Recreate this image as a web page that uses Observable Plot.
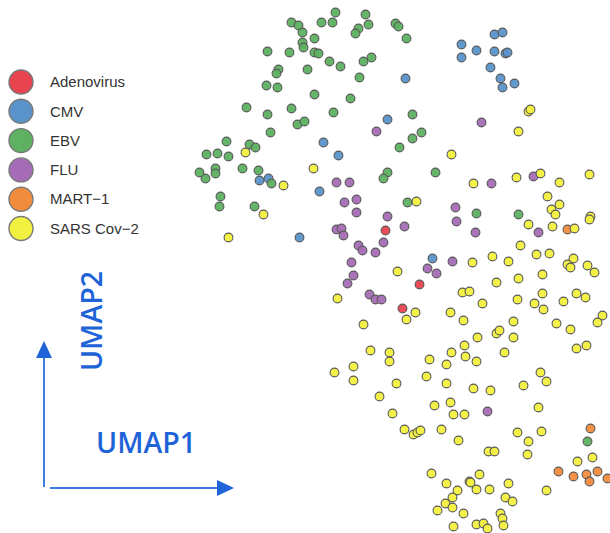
<!DOCTYPE html>
<html>
<head>
<meta charset="utf-8">
<script src="https://cdn.jsdelivr.net/npm/d3@7"></script>
<script src="https://cdn.jsdelivr.net/npm/@observablehq/plot@0.6"></script>
<style>
  html, body { margin: 0; padding: 0; background: #fff; }
  #wrap { position: relative; width: 610px; height: 533px; overflow: hidden; }
  #wrap > svg { position: absolute; left: 0; top: 0; }
</style>
</head>
<body>
<div id="wrap"></div>
<script>
// Categories (legend order) and colours
const categories = ["Adenovirus", "CMV", "EBV", "FLU", "MART\u22121", "SARS Cov\u22122"];
const colors = ["#e8444f", "#5a93ca", "#5db160", "#a66bb6", "#f28c3d", "#f3f13f"];

// UMAP embedding values: [UMAP1, UMAP2] (arbitrary units)
const adenovirus = [[385,303],[419,249],[402,225]];
const cmv = [[405,455],[387,414],[323,391],[338,378],[259,353],[268,355],[319,342],[299,296],
  [461,489],[461,476],[476,483],[494,499],[502,501],[494,482],[505,480],[507,481],[490,466],
  [500,455],[502,446],[514,450],[432,275]];
const ebv = [[335,521],[365,519],[291,511],[298,508],[321,511],[332,511],[358,505],[355,500],
  [368,509],[395,510],[398,507],[406,495],[302,501],[314,495],[302,491],[303,486],[267,482],
  [289,481],[314,481],[318,480],[329,472],[340,467],[363,472],[371,476],[278,464],[276,460],
  [307,464],[359,456],[266,448],[277,446],[314,439],[350,435],[246,426],[267,419],[291,425],
  [333,421],[297,409],[304,412],[270,401],[226,392],[249,389],[255,386],[206,379],[217,380],
  [228,377],[399,386],[215,365],[215,360],[205,355],[199,361],[242,365],[258,363],[271,350],
  [387,361],[383,355],[220,337],[219,327],[254,327],[407,331],[412,419],[412,395],[421,401],
  [435,361],[476,320],[518,319],[587,92]];
const flu = [[376,402],[336,351],[349,351],[344,331],[356,334],[356,321],[387,317],[404,307],
  [336,304],[341,305],[343,298],[358,288],[362,283],[383,291],[375,281],[351,271],[353,258],
  [347,250],[427,265],[436,260],[452,272],[369,239],[375,234],[381,234],[481,411],[491,350],
  [533,357],[455,326],[456,312],[475,301],[538,301],[487,122]];
const mart1 = [[567,304],[590,105],[558,62],[573,57],[586,59],[597,62],[589,52],[607,55]];
const sars = [[245,381],[313,365],[283,348],[263,319],[228,296],[528,422],[530,424],[518,402],
  [451,379],[473,350],[516,356],[540,360],[559,351],[589,359],[547,337],[559,329],[551,324],
  [555,319],[416,332],[528,309],[552,307],[574,305],[590,317],[589,314],[520,288],[397,262],
  [337,235],[415,221],[406,214],[363,209],[450,221],[462,241],[469,242],[463,213],[370,183],
  [389,181],[389,172],[429,174],[451,181],[464,188],[465,177],[446,169],[334,161],[353,167],
  [353,153],[396,150],[426,157],[446,150],[492,277],[472,271],[508,272],[536,279],[549,280],
  [573,275],[567,269],[570,266],[587,268],[594,261],[496,251],[518,255],[542,259],[482,230],
  [517,234],[542,240],[534,230],[543,224],[563,232],[576,240],[585,236],[602,218],[597,211],
  [513,212],[556,210],[570,204],[496,200],[499,203],[477,196],[513,196],[476,172],[504,181],
  [576,185],[586,188],[540,161],[546,152],[473,145],[490,143],[523,148],[379,137],[434,128],
  [450,131],[392,120],[453,119],[464,119],[404,104],[413,99],[417,101],[420,103],[441,104],
  [458,93],[431,60],[446,50],[457,43],[469,52],[452,36],[445,30],[452,26],[437,23],[463,20],
  [453,7],[538,126],[517,101],[541,102],[528,92],[488,82],[494,82],[527,79],[577,72],[592,76],
  [479,59],[470,51],[476,44],[489,44],[508,50],[546,43],[505,36],[512,32],[500,20],[502,15],
  [503,8],[476,9],[483,10],[487,5]];

const groups = [adenovirus, cmv, ebv, flu, mart1, sars];
const points = groups.flatMap((g, i) => g.map(([u1, u2]) => ({u1, u2, virus: categories[i]})));

const W = 610, H = 533;
const plot = Plot.plot({
  width: W, height: H,
  margin: 0,
  x: {domain: [0, W], range: [0, W], axis: null},
  y: {domain: [0, H], range: [H, 0], axis: null},
  color: {domain: categories, range: colors},
  marks: [
    Plot.dot(points, {x: "u1", y: "u2", fill: "virus", r: 4.4, stroke: "#5a5a5a", strokeWidth: 1.1, fillOpacity: 0.95})
  ]
});
document.getElementById("wrap").appendChild(plot);

// Legend + UMAP axis arrows (overlay)
const ov = d3.select("#wrap").append("svg")
  .attr("width", W).attr("height", H)
  .style("font-family", "'Liberation Sans', Arial, sans-serif");

const lg = ov.append("g");
categories.forEach((c, i) => {
  const cy = 82 + i * 29.3;
  lg.append("circle").attr("cx", 21).attr("cy", cy).attr("r", 12)
    .attr("fill", colors[i]).attr("stroke", "#7a7a7a").attr("stroke-width", 1.4);
  lg.append("text").attr("x", 50).attr("y", cy).attr("dy", "0.35em")
    .attr("font-size", 15).attr("fill", "#333").text(c);
});

const blue = "#1f63d8";
const ax = ov.append("g");
// vertical arrow
ax.append("line").attr("x1", 44).attr("y1", 487).attr("x2", 44).attr("y2", 356)
  .attr("stroke", "#3c7be0").attr("stroke-width", 2);
ax.append("path").attr("d", "M44,341 L36,358 L52,358 Z").attr("fill", blue);
// horizontal arrow
ax.append("line").attr("x1", 50).attr("y1", 488).attr("x2", 219).attr("y2", 488)
  .attr("stroke", "#3c7be0").attr("stroke-width", 2);
ax.append("path").attr("d", "M234,488 L217,480 L217,496 Z").attr("fill", blue);

ax.append("text").attr("x", 96).attr("y", 453)
  .attr("font-family", "'Open Sans', sans-serif").attr("font-size", 28.5).attr("font-weight", 600)
  .attr("fill", blue).text("UMAP1");
ax.append("text").attr("transform", "translate(102,321) rotate(-90)")
  .attr("text-anchor", "middle")
  .attr("font-family", "'Open Sans', sans-serif").attr("font-size", 28.5).attr("font-weight", 600)
  .attr("fill", blue).text("UMAP2");
</script>
</body>
</html>
